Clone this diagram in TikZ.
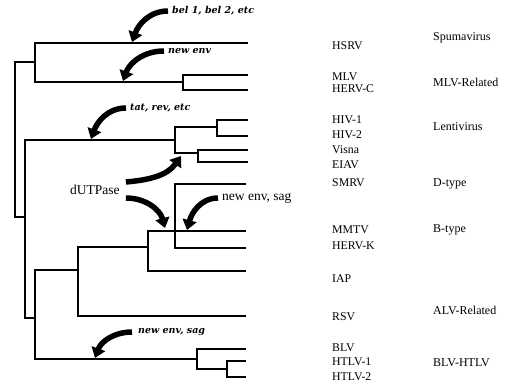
\documentclass[tikz,border=0pt]{standalone}
\usepackage{fontspec}
\setmainfont{Liberation Serif}
\newfontfamily\genefont{DejaVu Serif}
\usetikzlibrary{arrows.meta}
\begin{document}
\begin{tikzpicture}[x=1pt,y=-1pt,
  branch/.style={line width=1.2pt},
  taxon/.style={anchor=west, inner sep=0pt, font=\fontsize{11.8}{13}\selectfont},
  group/.style={anchor=west, inner sep=0pt, font=\fontsize{12}{13}\selectfont},
  note/.style={anchor=west, inner sep=0pt, font=\fontsize{13.5}{15}\selectfont},
  gene/.style={anchor=west, inner sep=0pt, font=\genefont\bfseries\itshape\fontsize{9.5}{11}\selectfont},
  genearrow/.style={line width=5.5pt, -{Triangle[length=10pt,width=14pt]}}]
\useasboundingbox (0,0) rectangle (532,385);

% inner nodes of the tree
\coordinate (root) at (15,140);
\coordinate (spu) at (35,62);
\coordinate (mlv) at (183,82);
\coordinate (rest) at (25,217);
\coordinate (lenti) at (175,140);
\coordinate (hiv) at (217,127);
\coordinate (eiav) at (198,153);
\coordinate (rest2) at (35,318);
\coordinate (bd) at (78,270);
\coordinate (b) at (148,247);
\coordinate (d) at (175,231);
\coordinate (htlv) at (197,359);
\coordinate (h2) at (227,369);

% tips
\coordinate (t-hsrv) at (248,43);
\coordinate (t-mlv) at (248,75);
\coordinate (t-hervc) at (248,90);
\coordinate (t-hiv1) at (248,120);
\coordinate (t-hiv2) at (248,136);
\coordinate (t-visna) at (248,150);
\coordinate (t-eiav) at (248,162);
\coordinate (t-smrv) at (246,184);
\coordinate (t-mmtv) at (246,231);
\coordinate (t-hervk) at (246,248);
\coordinate (t-iap) at (246,271);
\coordinate (t-rsv) at (246,316);
\coordinate (t-blv) at (246,349);
\coordinate (t-htlv1) at (246,361);
\coordinate (t-htlv2) at (246,377);

\draw[branch] (root) |- (spu);
\draw[branch] (root) |- (rest);
\draw[branch] (spu) |- (t-hsrv);
\draw[branch] (spu) |- (mlv);
\draw[branch] (mlv) |- (t-mlv);
\draw[branch] (mlv) |- (t-hervc);
\draw[branch] (rest) |- (lenti);
\draw[branch] (rest) |- (rest2);
\draw[branch] (lenti) |- (hiv);
\draw[branch] (lenti) |- (eiav);
\draw[branch] (hiv) |- (t-hiv1);
\draw[branch] (hiv) |- (t-hiv2);
\draw[branch] (eiav) |- (t-visna);
\draw[branch] (eiav) |- (t-eiav);
\draw[branch] (rest2) |- (bd);
\draw[branch] (rest2) |- (htlv);
\draw[branch] (bd) |- (b);
\draw[branch] (bd) |- (t-rsv);
\draw[branch] (b) |- (d);
\draw[branch] (b) |- (t-iap);
\draw[branch] (d) |- (t-smrv);
\draw[branch] (d) |- (t-mmtv);
\draw[branch] (d) |- (t-hervk);
\draw[branch] (htlv) |- (t-blv);
\draw[branch] (htlv) |- (h2);
\draw[branch] (h2) |- (t-htlv1);
\draw[branch] (h2) |- (t-htlv2);

% taxa
\node[taxon] (hsrv) at (332,46) {HSRV};
\node[taxon] (mlvname) at (332,77) {MLV};
\node[taxon] (hervc) at (332,89) {HERV-C};
\node[taxon] (hiv1) at (332,120) {HIV-1};
\node[taxon] (hiv2) at (332,135) {HIV-2};
\node[taxon] (visna) at (332,150) {Visna};
\node[taxon] (eiavname) at (332,165) {EIAV};
\node[taxon] (smrv) at (332,183) {SMRV};
\node[taxon] (mmtv) at (332,230) {MMTV};
\node[taxon] (hervk) at (332,246) {HERV-K};
\node[taxon] (iap) at (332,279) {IAP};
\node[taxon] (rsv) at (332,317) {RSV};
\node[taxon] (blv) at (332,348) {BLV};
\node[taxon] (htlv1) at (332,362) {HTLV-1};
\node[taxon] (htlv2) at (332,377) {HTLV-2};

% groups
\node[group] (g-spu) at (433,38) {Spumavirus};
\node[group] (g-mlv) at (433,82) {MLV-Related};
\node[group] (g-lenti) at (433,127) {Lentivirus};
\node[group] (g-d) at (433,184) {D-type};
\node[group] (g-b) at (433,230) {B-type};
\node[group] (g-alv) at (433,310) {ALV-Related};
\node[group] (g-blv) at (433,363) {BLV-HTLV};

% gene gains
\node[gene] (bel) at (172,11) {bel 1, bel 2, etc};
\node[gene] (newenv) at (168,51) {new env};
\node[gene] (tat) at (130,108) {tat, rev, etc};
\node[note] (dutp) at (70,190) {dUTPase};
\node[note] (envsag) at (222,198) {new env, sag};
\node[gene] (envsag2) at (138,332) {new env, sag};

\coordinate (a-bel) at (132,42);
\coordinate (a-mlv) at (123,81);
\coordinate (a-tat) at (91,139);
\coordinate (a-dut1) at (181,156);
\coordinate (a-dut2) at (165,228);
\coordinate (a-env) at (187,230);
\coordinate (a-sag) at (95,358);

\draw[genearrow] ([xshift=-4pt]bel.west) to[out=180,in=70] (a-bel);
\draw[genearrow] ([xshift=-4pt]newenv.west) to[out=180,in=70] (a-mlv);
\draw[genearrow] ([xshift=-4pt]tat.west) to[out=180,in=70] (a-tat);
\draw[genearrow] ([xshift=6pt,yshift=8pt]dutp.east) to[out=5,in=235] (a-dut1);
\draw[genearrow] ([xshift=6pt,yshift=-8pt]dutp.east) to[out=0,in=105] (a-dut2);
\draw[genearrow] ([xshift=-4pt]envsag.west) to[out=180,in=75] (a-env);
\draw[genearrow] ([xshift=-6pt]envsag2.west) to[out=180,in=70] (a-sag);
\end{tikzpicture}
\end{document}
